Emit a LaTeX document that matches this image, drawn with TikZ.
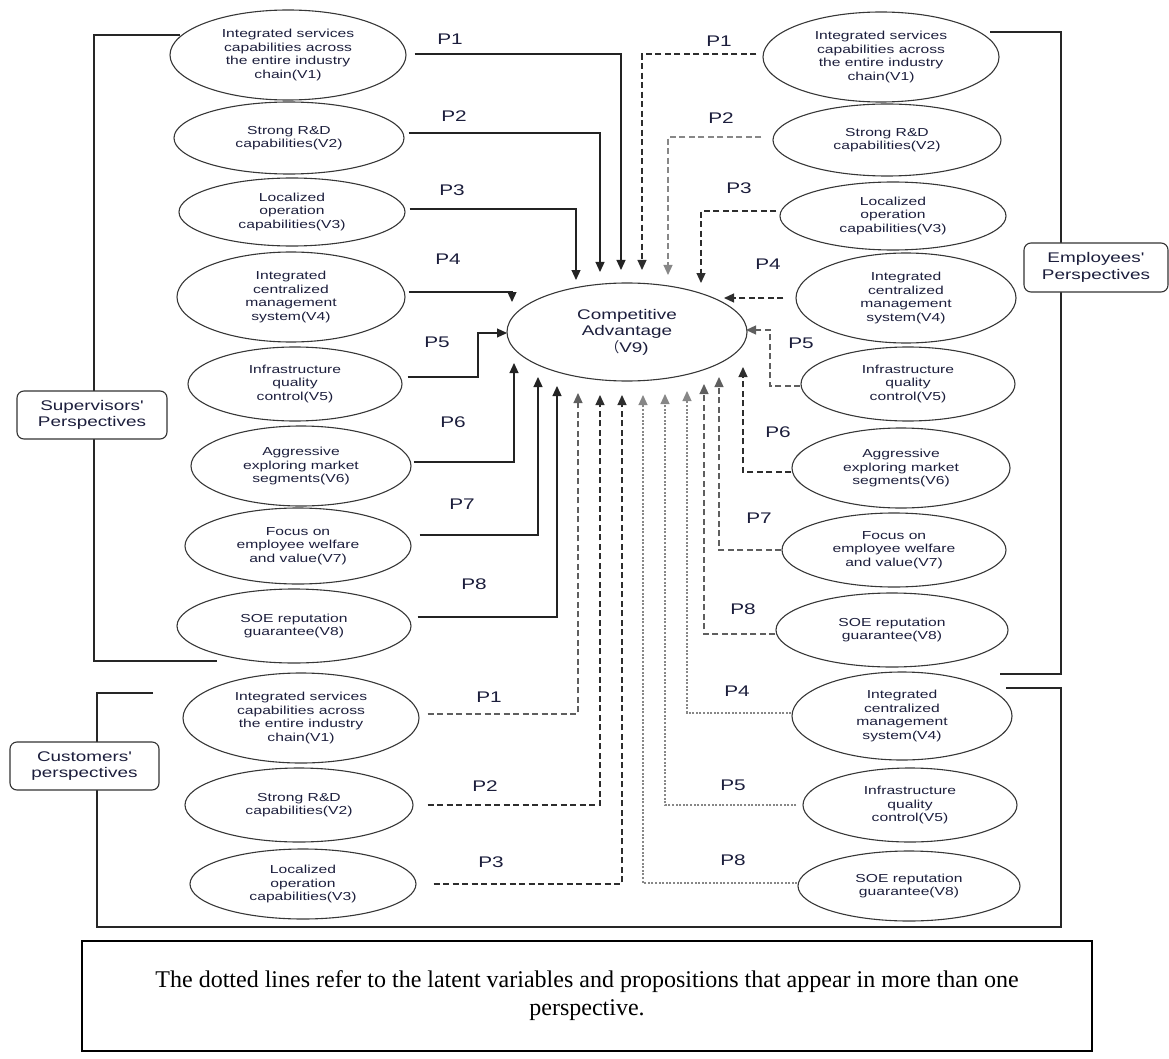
\documentclass[tikz,border=0pt]{standalone}
\usepackage{fontspec}
\setmainfont{Liberation Serif}
\newfontfamily\sansw[FakeStretch=1.35]{Liberation Sans}
\newfontfamily\cjkw{Noto Sans CJK SC}
\usetikzlibrary{shapes.geometric,arrows.meta}
\definecolor{txt}{RGB}{28,30,60}
\definecolor{elc}{RGB}{55,55,55}
\definecolor{ln}{RGB}{35,35,35}
\definecolor{dk}{RGB}{45,45,45}
\definecolor{md}{RGB}{95,95,95}
\definecolor{lt}{RGB}{135,135,135}
\newcommand\myEllFont{\sansw\fontsize{11.6}{13.6}\selectfont}
\newcommand\myBoxFont{\sansw\fontsize{14}{16.3}\selectfont}
\newcommand\myPFont{\sansw\fontsize{15.4}{18}\selectfont}
\newcommand\myCAFont{\sansw\fontsize{14}{16.5}\selectfont}
\begin{document}
\begin{tikzpicture}[x=1pt,y=-1pt,
  ell/.style={ellipse, draw=elc, line width=1.1pt, inner sep=0pt, align=center, font=\myEllFont, text=txt},
  persp/.style={draw=black!80, line width=1.1pt, rounded corners=7pt, fill=white, inner sep=0pt, align=center, font=\myBoxFont, text=txt},
  plab/.style={font=\myPFont, text=txt, inner sep=0pt},
  bracket/.style={line width=1.4pt, draw=black!85},
  arr/.style={-{Triangle[length=10pt,width=9pt]}, line width=1.2pt},
  sol/.style={arr, draw=ln},
  dsh/.style={arr, dash pattern=on 6pt off 3.5pt, draw=#1},
  dot/.style={arr, dash pattern=on 2pt off 1.6pt, draw=#1}
]
\useasboundingbox (0,0) rectangle (1169,1059);

% ---------- bracket lines ----------
\coordinate (sbA) at (180,35);  \coordinate (sbB) at (94,35);
\coordinate (sbC) at (94,661);  \coordinate (sbD) at (217,661);
\draw[bracket] (sbA) -- (sbB) -- (sbC) -- (sbD);
\coordinate (ebA) at (990,32);  \coordinate (ebB) at (1061,32);
\coordinate (ebC) at (1061,674); \coordinate (ebD) at (1000,674);
\draw[bracket] (ebA) -- (ebB) -- (ebC) -- (ebD);
\coordinate (cbA) at (153,693); \coordinate (cbB) at (97,693);
\coordinate (cbC) at (97,927);  \coordinate (cbD) at (1061,927);
\coordinate (cbE) at (1061,688); \coordinate (cbF) at (1006,688);
\draw[bracket] (cbA) -- (cbB) -- (cbC) -- (cbD) -- (cbE) -- (cbF);

% ---------- perspective boxes ----------
\node[persp, minimum width=150pt, minimum height=48pt] (sup) at (92,415) {Supervisors'\\Perspectives};
\node[persp, minimum width=144pt, minimum height=49pt] (emp) at (1096,267.5) {Employees'\\Perspectives};
\node[persp, minimum width=149pt, minimum height=48pt] (cus) at (84.5,766) {Customers'\\perspectives};

% ---------- central node ----------
\node[ell, font=\myCAFont, minimum width=240pt, minimum height=98pt] (ca) at (627,332)
  {Competitive\\Advantage\\{\cjkw （}V9)};

% ---------- supervisors' ellipses ----------
\node[ell, minimum width=236pt, minimum height=90pt] (s1) at (288,55) {Integrated services\\capabilities across\\the entire industry\\chain(V1)};
\node[ell, minimum width=230pt, minimum height=72pt] (s2) at (289,138) {Strong R\&D\\capabilities(V2)};
\node[ell, minimum width=226pt, minimum height=68pt] (s3) at (292,212) {Localized\\operation\\capabilities(V3)};
\node[ell, minimum width=228pt, minimum height=90pt] (s4) at (291,297) {Integrated\\centralized\\management\\system(V4)};
\node[ell, minimum width=214pt, minimum height=74pt] (s5) at (295,384) {Infrastructure\\quality\\control(V5)};
\node[ell, minimum width=220pt, minimum height=80pt] (s6) at (301,466) {Aggressive\\exploring market\\segments(V6)};
\node[ell, minimum width=226pt, minimum height=76pt] (s7) at (298,546) {Focus on\\employee welfare\\and value(V7)};
\node[ell, minimum width=234pt, minimum height=74pt] (s8) at (294,626) {SOE reputation\\guarantee(V8)};

% ---------- employees' ellipses ----------
\node[ell, minimum width=236pt, minimum height=90pt] (e1) at (881,57) {Integrated services\\capabilities across\\the entire industry\\chain(V1)};
\node[ell, minimum width=228pt, minimum height=72pt] (e2) at (887,140) {Strong R\&D\\capabilities(V2)};
\node[ell, minimum width=226pt, minimum height=68pt] (e3) at (893,216) {Localized\\operation\\capabilities(V3)};
\node[ell, minimum width=220pt, minimum height=90pt] (e4) at (906,298) {Integrated\\centralized\\management\\system(V4)};
\node[ell, minimum width=214pt, minimum height=74pt] (e5) at (908,384) {Infrastructure\\quality\\control(V5)};
\node[ell, minimum width=218pt, minimum height=80pt] (e6) at (901,468) {Aggressive\\exploring market\\segments(V6)};
\node[ell, minimum width=224pt, minimum height=74pt] (e7) at (894,550) {Focus on\\employee welfare\\and value(V7)};
\node[ell, minimum width=232pt, minimum height=74pt] (e8) at (892,630) {SOE reputation\\guarantee(V8)};

% ---------- customers' ellipses ----------
\node[ell, minimum width=236pt, minimum height=90pt] (c1) at (301,718) {Integrated services\\capabilities across\\the entire industry\\chain(V1)};
\node[ell, minimum width=228pt, minimum height=74pt] (c2) at (299,805) {Strong R\&D\\capabilities(V2)};
\node[ell, minimum width=226pt, minimum height=70pt] (c3) at (303,884) {Localized\\operation\\capabilities(V3)};
\node[ell, minimum width=220pt, minimum height=88pt] (c4) at (902,716) {Integrated\\centralized\\management\\system(V4)};
\node[ell, minimum width=214pt, minimum height=74pt] (c5) at (910,805) {Infrastructure\\quality\\control(V5)};
\node[ell, minimum width=222pt, minimum height=70pt] (c8) at (909,886) {SOE reputation\\guarantee(V8)};

% ---------- arrow tips and corners ----------
\coordinate (ts1) at (621,270);
\coordinate (ts2) at (600,272);
\coordinate (ts3) at (576,280);
\coordinate (ts4) at (512,302);
\coordinate (cs5) at (478,333); \coordinate (ts5) at (507,333);
\coordinate (ts6) at (514,363);
\coordinate (ts7) at (538,377);
\coordinate (ts8) at (557,386);

\coordinate (te1) at (642,270);
\coordinate (te2) at (668,275);
\coordinate (te3) at (701,283);
\coordinate (te4) at (724,298);
\coordinate (ce5) at (770,330); \coordinate (te5) at (746,330);
\coordinate (te6) at (743,367);
\coordinate (te7) at (719,377);
\coordinate (te8) at (704,384);

\coordinate (tc1) at (578,393);
\coordinate (tc2) at (600,395);
\coordinate (tc3) at (622,395);
\coordinate (tc8) at (643,395);
\coordinate (tc5) at (665,394);
\coordinate (tc4) at (687,391);

% ---------- supervisors' propositions (solid) ----------
\draw[sol] ([xshift=8pt,yshift=1pt]s1.east) -| (ts1);
\draw[sol] ([xshift=4pt,yshift=5pt]s2.east) -| (ts2);
\draw[sol] ([xshift=4pt,yshift=3pt]s3.east) -| (ts3);
\draw[sol] ([xshift=3pt,yshift=5pt]s4.east) -| (ts4);
\draw[sol] ([xshift=5pt,yshift=7pt]s5.east) -| (cs5) -- (ts5);
\draw[sol] ([xshift=2pt,yshift=4pt]s6.east) -| (ts6);
\draw[sol] ([xshift=8pt,yshift=11pt]s7.east) -| (ts7);
\draw[sol] ([xshift=6pt,yshift=9pt]s8.east) -| (ts8);

% ---------- employees' propositions (dashed) ----------
\draw[dsh=dk] ([xshift=-6pt,yshift=3pt]e1.west) -| (te1);
\draw[dsh=lt] ([xshift=-11pt,yshift=3pt]e2.west) -| (te2);
\draw[dsh=dk] ([xshift=-3pt,yshift=5pt]e3.west) -| (te3);
\draw[dsh=dk] ([xshift=-12pt]e4.west) -- (te4);
\draw[dsh=md] ([yshift=-2pt]e5.west) -| (ce5) -- (te5);
\draw[dsh=dk] ([yshift=-4pt]e6.west) -| (te6);
\draw[dsh=md] (e7.west) -| (te7);
\draw[dsh=md] ([yshift=-4pt]e8.west) -| (te8);

% ---------- customers' propositions ----------
\draw[dsh=md] ([xshift=8pt,yshift=4pt]c1.east) -| (tc1);
\draw[dsh=dk] ([xshift=14pt]c2.east) -| (tc2);
\draw[dsh=dk] ([xshift=17pt]c3.east) -| (tc3);
\draw[dot=lt] ([yshift=3pt]c4.west) -| (tc4);
\draw[dot=lt] ([xshift=-6pt]c5.west) -| (tc5);
\draw[dot=lt] ([yshift=3pt]c8.west) -| (tc8);

% ---------- proposition labels ----------
\node[plab] (ls1) at (450,39) {P1};
\node[plab] (ls2) at (454,116) {P2};
\node[plab] (ls3) at (452,190) {P3};
\node[plab] (ls4) at (448,259) {P4};
\node[plab] (ls5) at (437,342) {P5};
\node[plab] (ls6) at (453,422) {P6};
\node[plab] (ls7) at (462,504) {P7};
\node[plab] (ls8) at (474,584) {P8};

\node[plab] (le1) at (719,41) {P1};
\node[plab] (le2) at (721,118) {P2};
\node[plab] (le3) at (739,188) {P3};
\node[plab] (le4) at (768,264) {P4};
\node[plab] (le5) at (801,343) {P5};
\node[plab] (le6) at (778,432) {P6};
\node[plab] (le7) at (759,518) {P7};
\node[plab] (le8) at (743,609) {P8};

\node[plab] (lc1) at (489,697) {P1};
\node[plab] (lc2) at (485,786) {P2};
\node[plab] (lc3) at (491,862) {P3};
\node[plab] (lc4) at (737,691) {P4};
\node[plab] (lc5) at (733,785) {P5};
\node[plab] (lc8) at (733,860) {P8};

% ---------- note ----------
\node[draw=black, line width=2pt, minimum width=1010pt, minimum height=110pt, inner sep=0pt,
      align=center, font=\fontsize{24}{28}\selectfont] (note) at (587,996)
  {The dotted lines refer to the latent variables and propositions that appear in more than one\\perspective.};
\end{tikzpicture}
\end{document}
